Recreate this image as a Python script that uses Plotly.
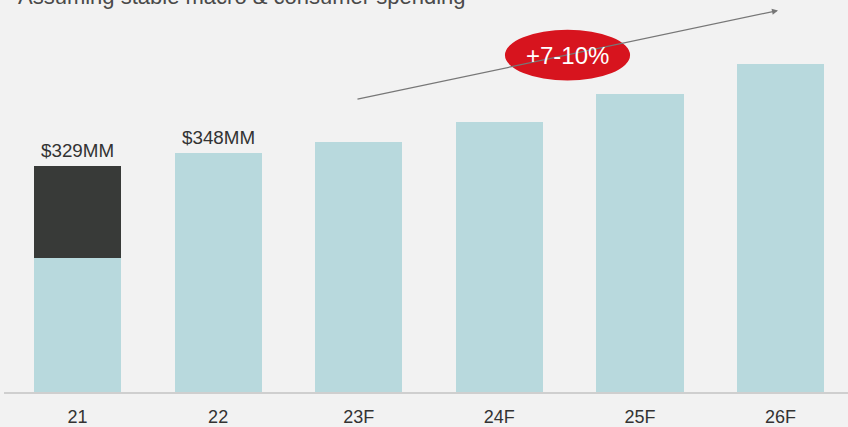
import plotly.graph_objects as go

categories = ["21", "22", "23F", "24F", "25F", "26F"]
base_values = [196, 348, 365, 394, 434, 478]
top_values = [133, 0, 0, 0, 0, 0]
value_labels = ["$329MM", "$348MM", "", "", "", ""]
title_text = "Assuming stable macro & consumer spending"
growth_text = "+7-10%"

BG = "#f2f2f2"
LIGHT = "#b8d9dd"
DARK = "#383a38"

fig = go.Figure()
fig.add_trace(go.Bar(x=categories, y=base_values, marker=dict(color=LIGHT, line=dict(width=0)),
                     width=0.62, hoverinfo="skip"))
fig.add_trace(go.Bar(x=categories, y=top_values, marker=dict(color=DARK, line=dict(width=0)),
                     width=0.62, hoverinfo="skip"))

totals = [b + t for b, t in zip(base_values, top_values)]
for i, (tot, lab) in enumerate(zip(totals, value_labels)):
    if lab:
        fig.add_annotation(x=i, y=tot, text=lab, showarrow=False, yanchor="bottom", yshift=3,
                           font=dict(family="Liberation Sans, Arial", size=18.8, color="#333333"))

# title (partially cut off at the top, as in the source)
fig.add_annotation(xref="paper", yref="paper", x=0.014, y=0.971, xanchor="left", yanchor="bottom",
                   text=title_text, showarrow=False,
                   font=dict(family="Liberation Sans, Arial", size=22, color="#4a4a4a"))

# growth arrow
fig.add_annotation(x=4.982, y=556, ax=-422, ay=89, axref="pixel", ayref="pixel",
                   showarrow=True, arrowhead=2, arrowsize=1, arrowwidth=1.2, arrowcolor="#777777", text="")

# red ellipse with growth text
fig.add_shape(type="circle", xref="x", yref="y", x0=3.04, x1=3.93, y0=454, y1=528,
              fillcolor="#d7141e", line=dict(width=0), layer="above")
fig.add_annotation(x=3.485, y=491, text=growth_text, showarrow=False,
                   font=dict(family="Liberation Sans, Arial", size=24, color="white"))

fig.update_layout(
    width=848, height=427,
    margin=dict(l=4, r=0, t=0, b=33),
    paper_bgcolor=BG, plot_bgcolor=BG,
    barmode="stack", showlegend=False,
    xaxis=dict(type="category", range=[-0.523, 5.48], showgrid=False, zeroline=False,
               showline=True, linecolor="#cfcfcf", linewidth=1.5, ticks="",
               tickfont=dict(family="Liberation Sans Narrow, Arial Narrow, Liberation Sans", size=18, color="#333333"),
               ticklabelstandoff=8),
    yaxis=dict(range=[0, 571.3], visible=False, showgrid=False, zeroline=False),
)

fig.write_html("out.html")
